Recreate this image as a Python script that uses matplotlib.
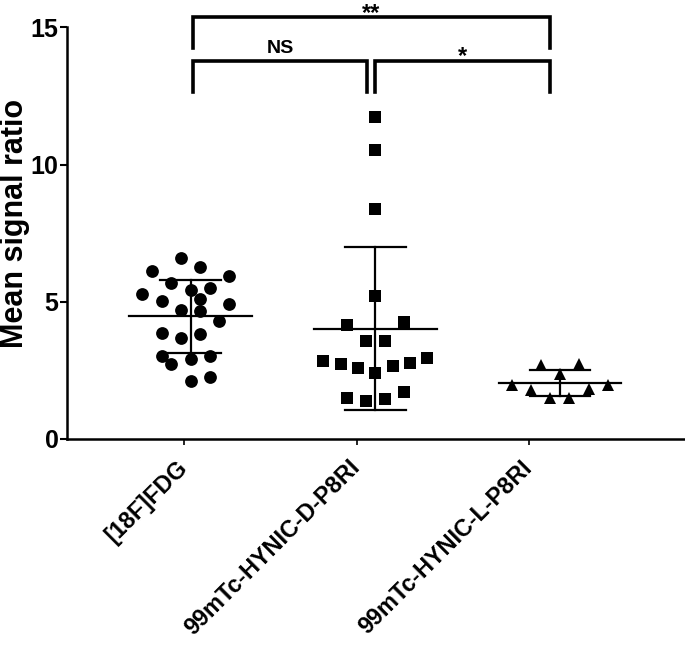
import numpy as np
import matplotlib
matplotlib.use("Agg")
import matplotlib.pyplot as plt

plt.rcParams['font.family'] = ['Liberation Sans', 'DejaVu Sans']
plt.rcParams['font.weight'] = 'bold'

# ---- data ----
groups = ["[18F]FDG", "99mTc-HYNIC-D-P8RI", "99mTc-HYNIC-L-P8RI"]
group_pos = [0.0, 1.0, 2.0]
tick_pos = [-0.035, 0.899, 1.832]

fdg_values = [6.60, 6.11, 6.27, 5.94, 5.70, 5.30, 5.42, 5.50, 5.02, 5.09, 4.93,
              4.69, 4.65, 4.30, 3.86, 3.69, 3.81, 3.02, 2.74, 2.93, 3.02, 2.13, 2.25]
fdg_offsets = [-0.053, -0.208, 0.050, 0.207, -0.107, -0.262, 0.0, 0.105, -0.154, 0.050, 0.207,
               -0.053, 0.050, 0.153, -0.154, -0.053, 0.050, -0.157, -0.107, 0.0, 0.105, 0.0, 0.105]

d_values = [11.74, 10.53, 8.40, 5.21, 4.17, 4.26, 3.59, 3.59, 2.84, 2.74, 2.60,
            2.40, 2.67, 2.77, 2.96, 1.49, 1.37, 1.45, 1.72]
d_offsets = [0.0, 0.0, 0.0, 0.0, -0.155, 0.154, -0.051, 0.052, -0.282, -0.186, -0.092,
             0.0, 0.094, 0.187, 0.281, -0.155, -0.051, 0.052, 0.154]

l_values = [2.68, 2.72, 2.38, 1.98, 1.79, 1.50, 1.50, 1.83, 1.98]
l_offsets = [-0.105, 0.103, 0.0, -0.258, -0.157, -0.054, 0.050, 0.157, 0.258]

series_values = [fdg_values, d_values, l_values]
series_offsets = [fdg_offsets, d_offsets, l_offsets]
markers = ['o', 's', '^']
marker_sizes = [9.2, 9.0, 8.6]

# significance brackets: (x_left, x_right, y_top, y_leg, label, text baseline y)
brackets = [
    (0.011, 1.946, 15.37, 14.24, "**", 15.27),
    (0.011, 0.956, 13.77, 12.65, "NS", 14.08),
    (0.998, 1.946, 13.77, 12.65, "*", 13.71),
]

# ---- figure ----
W, H = 685, 645
fig = plt.figure(figsize=(W / 100, H / 100), dpi=100)
ax_left, ax_right = 67 / W, 685 / W
ax_bottom, ax_top = (H - 439.0) / H, (H - 27.5) / H
ax = fig.add_axes([ax_left, ax_bottom, ax_right - ax_left, ax_top - ax_bottom])

for pos, vals, offs, mk, ms in zip(group_pos, series_values, series_offsets, markers, marker_sizes):
    vals = np.array(vals)
    ax.plot(pos + np.array(offs), vals, linestyle='none', marker=mk, markersize=ms,
            color='black', markeredgewidth=0, zorder=3)
    m = vals.mean()
    sd = vals.std(ddof=1)
    ax.plot([pos - 0.333, pos + 0.333], [m, m], color='black', lw=1.6, zorder=2)
    ax.plot([pos, pos], [m - sd, m + sd], color='black', lw=1.6, zorder=2)
    for yv in (m - sd, m + sd):
        ax.plot([pos - 0.165, pos + 0.165], [yv, yv], color='black', lw=1.6, zorder=2)

for x0, x1, yt, yl, lab, ytxt in brackets:
    ax.plot([x0, x0, x1, x1], [yl, yt, yt, yl], color='black', lw=2.6,
            solid_joinstyle='miter', clip_on=False)
    fs = 14 if lab == "NS" else 17
    ax.text((x0 + x1) / 2, ytxt, lab, ha='center', va='baseline', fontsize=fs,
            fontweight='bold', clip_on=False)

ax.set_xlim(-0.670, 2.677)
ax.set_ylim(0, 15)
ax.set_yticks([0, 5, 10, 15])
ax.set_xticks(tick_pos)
ax.set_xticklabels(groups, rotation=45, ha='right', va='center', rotation_mode='anchor',
                   fontsize=16.8, fontweight='bold')
ax.tick_params(axis='y', labelsize=18, width=1.5, length=5, pad=1)
ax.tick_params(axis='x', width=1.2, length=4, pad=14)
for t in ax.get_yticklabels():
    t.set_fontweight('bold')
ax.set_ylabel("Mean signal ratio", fontsize=22, fontweight='bold')
ax.yaxis.set_label_coords(-0.0595, 0.525)

for s in ['top', 'right']:
    ax.spines[s].set_visible(False)
for s in ['left', 'bottom']:
    ax.spines[s].set_linewidth(1.8)

fig.savefig("out.png", dpi=100)
